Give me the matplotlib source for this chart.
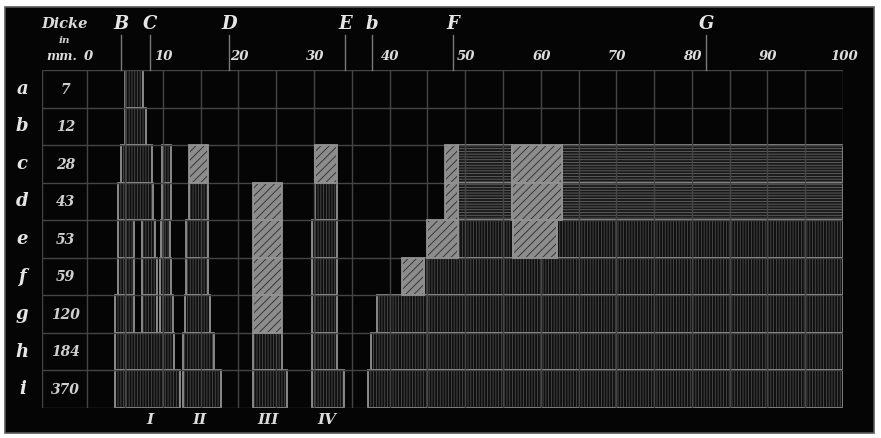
import matplotlib
matplotlib.use("Agg")
import matplotlib.pyplot as plt
from matplotlib.patches import Rectangle

# rows a..i with layer thickness in mm
row_names = ["a", "b", "c", "d", "e", "f", "g", "h", "i"]
thickness_mm = [7, 12, 28, 43, 53, 59, 120, 184, 370]

# scale along the spectrum
scale_ticks = [0, 10, 20, 30, 40, 50, 60, 70, 80, 90, 100]

# Fraunhofer lines
line_names = ["B", "C", "D", "E", "b", "F", "G"]
line_pos = [4.46, 8.30, 18.75, 34.1, 37.67, 48.4, 81.9]

# absorption band groups
group_names = ["I", "II", "III", "IV"]
group_pos = [8.3, 14.9, 23.9, 31.7]

# (row, start, end) - strong absorption, vertical hatching
strong = [
    (0, 5.0, 7.3),
    (1, 5.0, 7.8),
    (2, 4.5, 8.5), (2, 9.9, 11.1),
    (3, 4.0, 8.7), (3, 9.9, 11.1), (3, 13.4, 16.0), (3, 30.1, 33.0),
    (4, 4.0, 6.2), (4, 7.2, 8.9), (4, 9.8, 11.0), (4, 13.0, 16.0),
    (4, 29.7, 33.0), (4, 49.0, 56.3), (4, 62.1, 100),
    (5, 4.0, 6.2), (5, 7.2, 9.2), (5, 9.6, 11.1), (5, 13.0, 16.0),
    (5, 29.7, 33.0), (5, 44.6, 100),
    (6, 3.6, 6.2), (6, 7.2, 9.2), (6, 9.6, 11.4), (6, 12.9, 16.2),
    (6, 29.7, 33.0), (6, 38.3, 100),
    (7, 3.6, 11.5), (7, 12.6, 16.8), (7, 21.9, 25.8), (7, 29.7, 33.1),
    (7, 37.6, 100),
    (8, 3.6, 12.2), (8, 12.6, 17.7), (8, 21.9, 26.4), (8, 29.7, 34.0),
    (8, 37.1, 100),
]

# weak absorption, diagonal hatching
weak = [
    (2, 13.4, 16.0), (2, 30.1, 33.0), (2, 47.3, 49.0), (2, 56.2, 62.8),
    (3, 21.9, 25.7), (3, 47.3, 49.0), (3, 56.2, 62.8),
    (4, 21.9, 25.7), (4, 45.0, 49.0), (4, 56.3, 62.1),
    (5, 21.9, 25.7), (5, 41.7, 44.6),
    (6, 21.9, 25.7),
]

# medium absorption, horizontal hatching
medium = [
    (2, 49.0, 56.2), (2, 62.8, 100),
    (3, 49.0, 56.2), (3, 62.8, 100),
]

plt.rcParams["hatch.linewidth"] = 0.6
font = dict(family="DejaVu Serif", style="italic", weight="bold")

fig = plt.figure(figsize=(8.81, 4.38), dpi=100)
fig.patch.set_facecolor("white")

bg = fig.add_axes([0, 0, 1, 1])
bg.axis("off")
bg.add_patch(Rectangle((5 / 881, 5 / 438), 869 / 881, 426 / 438,
                       transform=bg.transAxes, facecolor="#050505",
                       edgecolor="#5a5a5a", lw=1.2))

ax = fig.add_axes([42 / 881, 1 - 408 / 438, 801 / 881, 338 / 438])
ax.set_xlim(-6, 100)
ax.set_ylim(len(row_names), 0)
ax.axis("off")
ax.patch.set_alpha(0)

# grid
ax.vlines([-6] + list(range(0, 101, 5)), 0, len(row_names),
          color="#454545", lw=1, zorder=2)
ax.hlines(range(len(row_names) + 1), -6, 100, color="#454545", lw=1,
          zorder=2)


def draw_bands(bands, face, hatch, hcolor, z):
    for r, x0, x1 in bands:
        ax.add_patch(Rectangle((x0, r), x1 - x0, 1, facecolor=face,
                               hatch=hatch, edgecolor=hcolor, lw=0,
                               zorder=z))
        ax.add_patch(Rectangle((x0, r), x1 - x0, 1, facecolor="none",
                               edgecolor="#929292", lw=1.3, zorder=z + 0.5))


draw_bands(strong, "#101010", "||||||", "#4c4c4c", 1)
draw_bands(medium, "#1a1a1a", "------", "#666666", 1)
draw_bands(weak, "#8c8c8c", "////", "#2a2a2a", 4)

# Fraunhofer lines above the scale
for name, x in zip(line_names, line_pos):
    ax.plot([x, x], [-0.93, 0], color="#7a7a7a", lw=1, clip_on=False)
    ax.text(x, -1.22, name, color="#e6e6e6", fontsize=13, ha="center",
            va="center", clip_on=False, **font)

for t in scale_ticks:
    ax.text(t + 0.1, -0.35, str(t), color="#dcdcdc", fontsize=9.5,
            ha="center", va="center", **font)

# header of thickness column
ax.text(-3.0, -1.22, "Dicke", color="#dcdcdc", fontsize=10.5, ha="center",
        va="center", **font)
ax.text(-3.0, -0.78, "in", color="#cfcfcf", fontsize=7.5, ha="center",
        va="center", **font)
ax.text(-3.4, -0.35, "mm.", color="#dcdcdc", fontsize=9, ha="center",
        va="center", **font)

for i, (name, d) in enumerate(zip(row_names, thickness_mm)):
    ax.text(-8.6, i + 0.5, name, color="#e6e6e6", fontsize=13, ha="center",
            va="center", clip_on=False, **font)
    ax.text(-2.9, i + 0.52, str(d), color="#cfcfcf", fontsize=10,
            ha="center", va="center", **font)

for name, x in zip(group_names, group_pos):
    ax.text(x, 9.32, name, color="#dcdcdc", fontsize=11, ha="center",
            va="center", clip_on=False, **font)

fig.savefig("out.png", dpi=100, facecolor=fig.get_facecolor())
